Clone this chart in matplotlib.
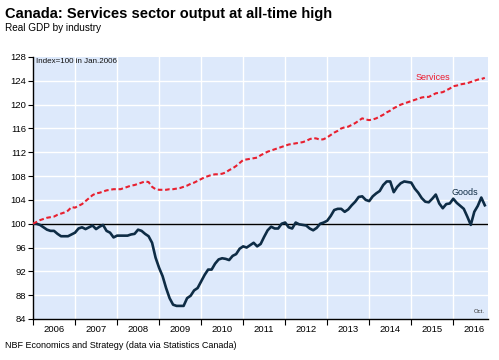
import matplotlib
matplotlib.use("Agg")
import matplotlib.pyplot as plt
import numpy as np

plt.rcParams['font.family'] = ['Liberation Sans', 'DejaVu Sans']

# Monthly index values, Jan 2006 .. Oct 2016 (Index=100 in Jan 2006)
services = [
    100.0, 100.3, 100.6, 100.8, 101.0, 101.1, 101.2, 101.5, 101.7, 101.9, 102.2, 102.8,  # 2006
    102.7, 103.0, 103.3, 103.8, 104.3, 104.8, 105.1, 105.2, 105.4, 105.6, 105.7, 105.8,  # 2007
    105.8, 105.8, 106.0, 106.2, 106.4, 106.5, 106.7, 106.9, 107.1, 107.0, 106.2, 105.8,  # 2008
    105.7, 105.7, 105.7, 105.8, 105.8, 105.9, 106.0, 106.2, 106.4, 106.7, 106.9, 107.2,  # 2009
    107.5, 107.8, 108.0, 108.2, 108.3, 108.3, 108.4, 108.6, 109.0, 109.3, 109.7, 110.2,  # 2010
    110.7, 110.8, 110.9, 111.0, 111.1, 111.5, 111.8, 112.1, 112.3, 112.5, 112.7, 112.9,  # 2011
    113.1, 113.3, 113.4, 113.5, 113.6, 113.7, 113.9, 114.2, 114.4, 114.3, 114.1, 114.2,  # 2012
    114.5, 114.9, 115.3, 115.6, 116.0, 116.2, 116.3, 116.6, 116.9, 117.3, 117.7, 117.5,  # 2013
    117.4, 117.5, 117.7, 118.0, 118.3, 118.7, 119.0, 119.4, 119.7, 120.0, 120.2, 120.4,  # 2014
    120.6, 120.8, 121.0, 121.2, 121.3, 121.3, 121.6, 121.9, 122.0, 122.1, 122.4, 122.7,  # 2015
    123.1, 123.2, 123.4, 123.5, 123.6, 123.8, 124.0, 124.2, 124.3, 124.5,                # 2016
]
goods = [
    100.0, 100.0, 99.8, 99.4, 99.0, 98.8, 98.8, 98.3, 97.9, 97.9, 97.9, 98.2,            # 2006
    98.5, 99.2, 99.4, 99.1, 99.4, 99.7, 99.1, 99.5, 99.8, 98.8, 98.5, 97.7,              # 2007
    98.0, 98.0, 98.0, 98.0, 98.2, 98.3, 99.0, 98.8, 98.3, 97.9, 96.8, 94.3,              # 2008
    92.6, 91.2, 89.2, 87.5, 86.4, 86.2, 86.2, 86.2, 87.5, 87.9, 88.8, 89.2,              # 2009
    90.3, 91.4, 92.3, 92.3, 93.3, 94.0, 94.2, 94.1, 93.9, 94.6, 94.9, 95.8,              # 2010
    96.2, 96.0, 96.4, 96.8, 96.2, 96.6, 97.8, 98.9, 99.5, 99.2, 99.2, 100.0,             # 2011
    100.2, 99.4, 99.2, 100.2, 99.9, 99.8, 99.7, 99.2, 98.9, 99.3, 100.0, 100.2,          # 2012
    100.5, 101.3, 102.3, 102.5, 102.5, 102.0, 102.4, 103.1, 103.7, 104.5, 104.6, 104.0,  # 2013
    103.8, 104.6, 105.1, 105.5, 106.5, 107.1, 107.1, 105.3, 106.2, 106.8, 107.1, 107.0,  # 2014
    106.9, 105.9, 105.2, 104.3, 103.7, 103.6, 104.2, 104.9, 103.4, 102.6, 103.3, 103.4,  # 2015
    104.2, 103.5, 103.0, 102.5, 101.2, 99.8, 102.0, 103.0, 104.4, 103.1,                 # 2016
]
years = [str(y) for y in range(2006, 2017)]
yticks = list(range(84, 129, 4))

months = np.arange(len(services))

fig = plt.figure(figsize=(4.99, 3.60), dpi=100)
ax = fig.add_axes([33/499, 1-319/360, (488.3-33)/499, (319-57)/360])
ax.set_facecolor('#dde9fb')

ax.set_xlim(0, 130)
ax.set_ylim(84, 128)

# grid
for k in range(1, len(years)):
    ax.axvline(k*12, color='white', lw=1.0, zorder=1)
for yv in yticks[1:-1]:
    ax.axhline(yv, color='white', lw=1.0, zorder=1)

ax.axhline(100, color='black', lw=1.0, zorder=2)

ax.plot(months, goods, color='#0e2c45', lw=1.9, zorder=3, solid_joinstyle='round')
ax.plot(months, services, color='#e8202f', lw=1.5, dashes=(2.2, 1.3), zorder=3)

ax.text(114.3, 124.5, 'Services', color='#ee1c2e', fontsize=6.5, ha='center', va='center')
ax.text(123.3, 105.2, 'Goods', color='#0e2c45', fontsize=6.5, ha='center', va='center')
ax.text(0.8, 127.3, 'Index=100 in Jan.2006', fontsize=5.8, ha='left', va='center', color='#111111')
ax.text(127.5, 85.2, 'Oct.', fontsize=4.3, ha='center', va='center', color='#333333')

for s in ['top', 'right']:
    ax.spines[s].set_visible(False)
ax.spines['left'].set_linewidth(1.0)
ax.spines['bottom'].set_linewidth(1.0)

ax.set_yticks(yticks)
ax.set_yticklabels([str(v) for v in yticks], fontsize=6.8)
ax.tick_params(axis='y', direction='out', length=3.5, width=0.8, pad=1.5)

ax.set_xticks([k*12 for k in range(len(years))])
ax.set_xticklabels([])
ax.tick_params(axis='x', which='major', direction='out', length=4, width=0.8)
ax.set_xticks([k*12 + 6 for k in range(len(years))], minor=True)
ax.set_xticklabels(years, minor=True, fontsize=6.8)
ax.tick_params(axis='x', which='minor', length=0, pad=4)

fig.text(5/499, 1-14/360, 'Canada: Services sector output at all-time high', fontsize=10.5,
         fontweight='bold', ha='left', va='center')
fig.text(5/499, 1-28/360, 'Real GDP by industry', fontsize=7.2, ha='left', va='center')
fig.text(5/499, 1-346/360, 'NBF Economics and Strategy (data via Statistics Canada)', fontsize=6.5,
         ha='left', va='center')

fig.savefig('out.png', dpi=100)
